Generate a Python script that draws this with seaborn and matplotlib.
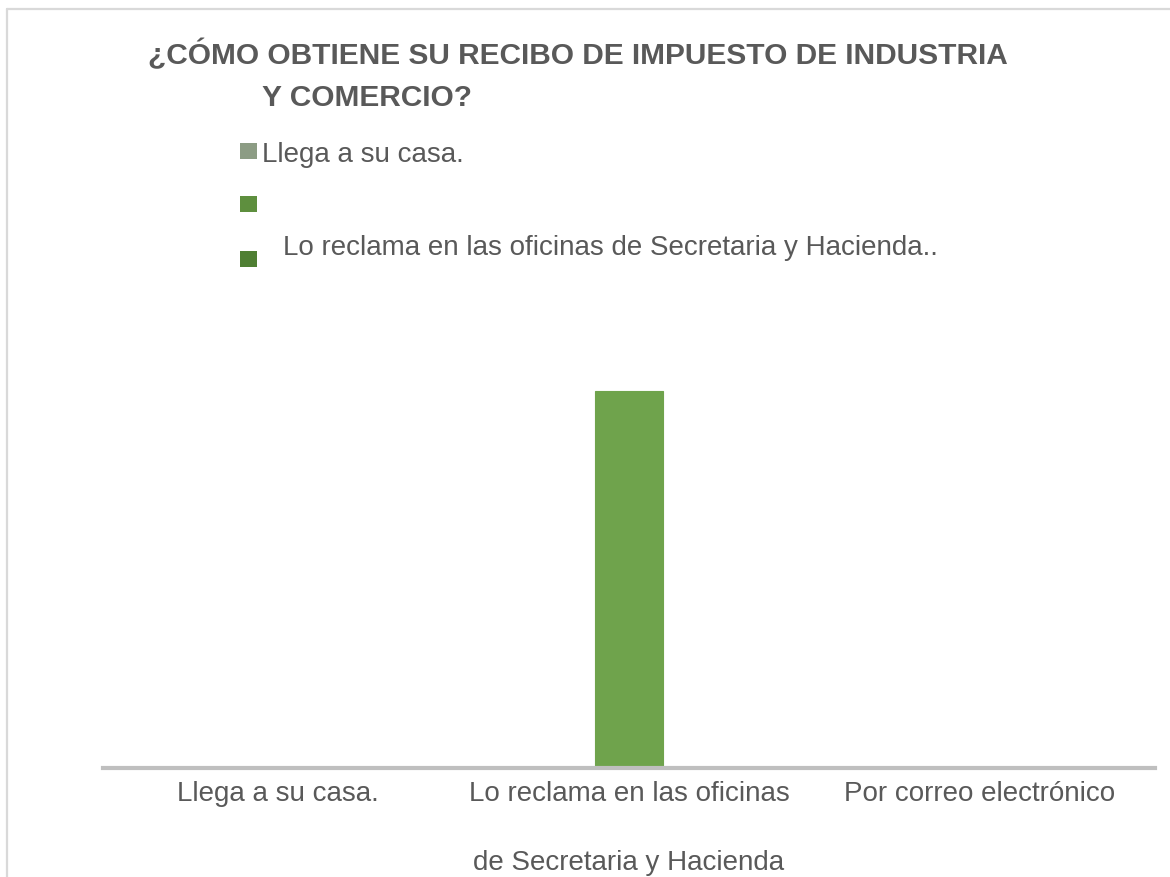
import matplotlib
matplotlib.use("Agg")
import matplotlib.pyplot as plt
import seaborn as sns
from matplotlib.lines import Line2D
from matplotlib.patches import Rectangle

# Data
categorias = ["Llega a su casa.",
              "Lo reclama en las oficinas\nde Secretaria y Hacienda",
              "Por correo electrónico"]
valores = [0, 100, 0]
leyenda = ["Llega a su casa.", "",
           "Lo reclama en las oficinas de Secretaria y Hacienda.."]
colores_leyenda = ["#8c9c84", "#5e8f3e", "#4f7f33"]
titulo_1 = "¿CÓMO OBTIENE SU RECIBO DE IMPUESTO DE INDUSTRIA"
titulo_2 = "Y COMERCIO?"

sns.set_style("white")
plt.rcParams["font.family"] = ["Liberation Sans", "DejaVu Sans"]
plt.rcParams["hatch.linewidth"] = 2.5
plt.rcParams["hatch.color"] = "#6fa34c"

fig = plt.figure(figsize=(11.7, 8.78), dpi=100)
ax = fig.add_axes([103 / 1170, 109 / 878, 1052 / 1170, 489 / 878])

# striped green bar
sns.barplot(x=categorias, y=valores, ax=ax, color="#dcefcc", width=0.194,
            saturation=1)
for p in ax.patches:
    p.set_facecolor("#e2f3d4")
    p.set_edgecolor("#6fa34c")
    p.set_hatch("-" * 8)
    p.set_linewidth(0.8)

ax.set_ylim(0, 129.7)
ax.set_xlim(-0.5, 2.5)
ax.set_yticks([])
for s in ["top", "left", "right"]:
    ax.spines[s].set_visible(False)
ax.spines["bottom"].set_color("#bfbfbf")
ax.spines["bottom"].set_linewidth(3)
ax.tick_params(axis="x", length=0, pad=9, labelsize=20, labelcolor="#595959")
for t in ax.get_xticklabels():
    t.set_linespacing(3.15)
    t.set_verticalalignment("top")
ax.set_xlabel("")
ax.set_ylabel("")

# Title
fig.text(148 / 1170, 1 - 55 / 878, titulo_1, fontsize=21.5, fontweight="bold",
         color="#595959", va="center", ha="left")
fig.text(262 / 1170, 1 - 98 / 878, titulo_2, fontsize=21.5, fontweight="bold",
         color="#595959", va="center", ha="left")

# Legend (drawn by hand, keeps the odd offsets of the original)
marker_y = [152, 205, 260]
text_pos = [(262, 155), (262, 205), (283, 248)]
for y, (tx, ty), lab, c in zip(marker_y, text_pos, leyenda, colores_leyenda):
    fig.add_artist(Rectangle((240 / 1170, 1 - (y + 8) / 878), 17 / 1170, 16 / 878,
                             transform=fig.transFigure, facecolor=c,
                             edgecolor="none"))
    if lab:
        fig.text(tx / 1170, 1 - ty / 878, lab, fontsize=20, color="#595959",
                 va="center", ha="left")

# Chart frame
fig.add_artist(Line2D([7 / 1170, 7 / 1170], [0, 1 - 10 / 878],
                      transform=fig.transFigure, color="#d9d9d9", lw=1.6))
fig.add_artist(Line2D([7 / 1170, 1], [1 - 10 / 878, 1 - 10 / 878],
                      transform=fig.transFigure, color="#d9d9d9", lw=1.6))

fig.savefig("out.png", dpi=100)
